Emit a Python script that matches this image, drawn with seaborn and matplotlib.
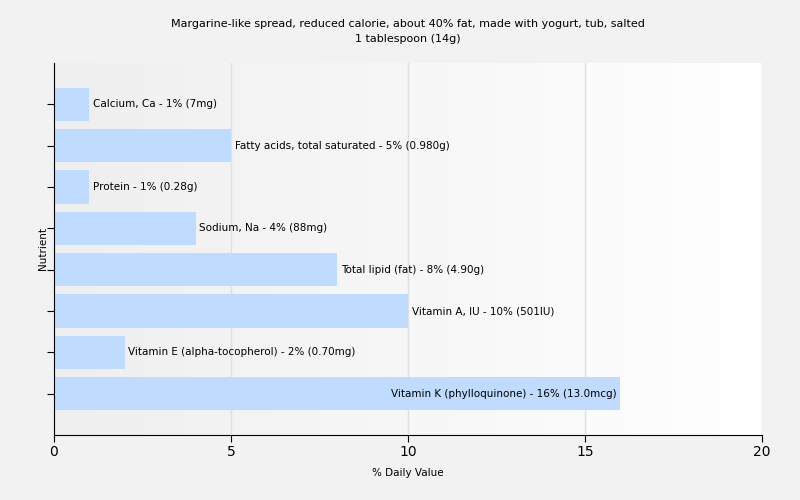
import numpy as np
import pandas as pd
import matplotlib.pyplot as plt
import seaborn as sns

# Nutrient values
nutrients = ['Calcium, Ca', 'Fatty acids, total saturated', 'Protein', 'Sodium, Na',
             'Total lipid (fat)', 'Vitamin A, IU', 'Vitamin E (alpha-tocopherol)',
             'Vitamin K (phylloquinone)']
daily_pct = [1, 5, 1, 4, 8, 10, 2, 16]
amounts = ['7mg', '0.980g', '0.28g', '88mg', '4.90g', '501IU', '0.70mg', '13.0mcg']

df = pd.DataFrame({'nutrient': nutrients, 'pct': daily_pct, 'amount': amounts})

sns.set_style('white')
plt.rcParams['font.family'] = ['DejaVu Sans']
plt.rcParams['text.color'] = 'black'
plt.rcParams['axes.labelcolor'] = 'black'
plt.rcParams['xtick.color'] = 'black'
plt.rcParams['ytick.color'] = 'black'

fig = plt.figure(figsize=(8, 5), dpi=100, facecolor='#f2f2f2')
ax = fig.add_axes([54 / 800, 65 / 500, 708 / 800, 372 / 500])

# soft left-to-right gradient behind the bars
grad = np.linspace(0, 1, 256).reshape(1, -1)
ax.imshow(grad, extent=[0, 1, 0, 1], transform=ax.transAxes, aspect='auto',
          cmap=sns.blend_palette(['#efefef', '#ffffff'], as_cmap=True), zorder=0)

sns.barplot(data=df, x='pct', y='nutrient', orient='h', color='#bfdbff',
            width=0.8, saturation=1, linewidth=0, edgecolor='none', ax=ax, zorder=2)

ax.set_xlim(0, 20)
ax.set_ylim(len(nutrients), -1)
ax.set_xticks([0, 5, 10, 15, 20])
ax.set_yticks(range(len(nutrients)))
ax.set_yticklabels([])
ax.xaxis.grid(True, color='#e0e0e0', linewidth=1, zorder=1)
ax.set_axisbelow(True)

for s in ['top', 'right']:
    ax.spines[s].set_visible(False)
for s in ['left', 'bottom']:
    ax.spines[s].set_color('black')
ax.tick_params(axis='x', length=5, labelsize=10, bottom=True, pad=2)
ax.tick_params(axis='y', length=5, left=True)

for i, row in df.iterrows():
    label = f"{row['nutrient']} - {row['pct']}% ({row['amount']})"
    if row['pct'] >= 15:
        ax.text(row['pct'] - 0.1, i, label, ha='right', va='center', fontsize=7.5, zorder=3)
    else:
        ax.text(row['pct'] + 0.1, i, label, ha='left', va='center', fontsize=7.5, zorder=3)

ax.set_xlabel('% Daily Value', fontsize=7.5, labelpad=7)
ax.set_ylabel('Nutrient', fontsize=7.5, labelpad=-4)
ax.set_title('Margarine-like spread, reduced calorie, about 40% fat, made with yogurt, tub, salted\n1 tablespoon (14g)',
             fontsize=8, pad=15, linespacing=1.6)

fig.savefig('out.png', dpi=100, facecolor=fig.get_facecolor())
